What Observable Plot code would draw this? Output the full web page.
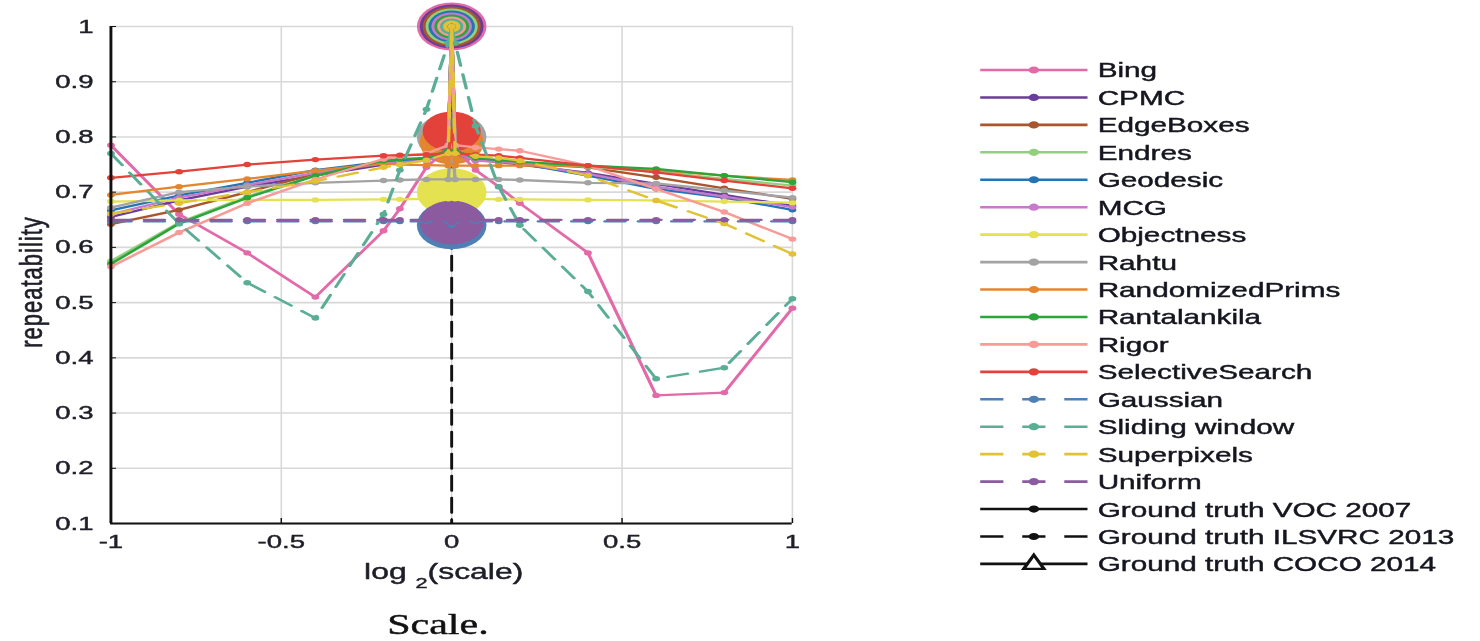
<!DOCTYPE html>
<html>
<head>
<meta charset="utf-8">
<script src="https://cdn.jsdelivr.net/npm/d3@7"></script>
<script src="https://cdn.jsdelivr.net/npm/@observablehq/plot@0.6"></script>
<style>
  html, body { margin: 0; padding: 0; background: #fff; overflow: hidden; }
  #stage {
    position: absolute; left: 0; top: 0; width: 1021px; height: 641px;
    transform: scaleX(1.45); transform-origin: 0 0;
    font-family: "Liberation Sans", Arial, sans-serif;
    color: #1e1e28;
  }
  #stage text { stroke: currentColor; stroke-width: 0.45px; paint-order: stroke; }
  #chart { position: absolute; left: 0; top: 0; }
  #overlay { position: absolute; left: 0; top: 0; pointer-events: none; }
</style>
</head>
<body>
<div id="stage">
  <div id="chart"></div>
  <svg id="overlay" width="1021" height="641"></svg>
</div>
<script>
// log2 of the scale factor applied to the image
const scales = [-1, -0.8, -0.6, -0.4, -0.2, -0.152, -0.074, -0.01, 0, 0.01, 0.07, 0.138, 0.2, 0.4, 0.6, 0.8, 1];

// repeatability per proposal method, one value per scale
const bing            = [0.785, 0.66, 0.59, 0.51, 0.63, 0.67, 0.745, 0.78, 1, 0.78, 0.74, 0.71, 0.68, 0.59, 0.332, 0.337, 0.49];
const cpmc            = [0.655, 0.685, 0.71, 0.73, 0.75, 0.755, 0.76, 0.775, 1, 0.775, 0.76, 0.755, 0.75, 0.735, 0.715, 0.695, 0.675];
const edgeBoxes       = [0.642, 0.668, 0.70, 0.733, 0.752, 0.755, 0.758, 0.77, 1, 0.77, 0.758, 0.755, 0.752, 0.745, 0.727, 0.707, 0.688];
const endres          = [0.575, 0.645, 0.692, 0.73, 0.757, 0.758, 0.76, 0.772, 1, 0.772, 0.76, 0.757, 0.754, 0.746, 0.737, 0.724, 0.712];
const geodesic        = [0.667, 0.694, 0.717, 0.74, 0.755, 0.757, 0.76, 0.775, 1, 0.775, 0.76, 0.756, 0.752, 0.73, 0.706, 0.69, 0.668];
const mcg             = [0.66, 0.69, 0.713, 0.735, 0.752, 0.754, 0.757, 0.772, 1, 0.772, 0.757, 0.755, 0.752, 0.733, 0.71, 0.692, 0.673];
const objectness      = [0.683, 0.685, 0.686, 0.686, 0.687, 0.687, 0.688, 0.688, 0.70, 0.688, 0.688, 0.687, 0.687, 0.686, 0.685, 0.683, 0.681];
const rahtu           = [0.672, 0.70, 0.71, 0.717, 0.721, 0.722, 0.723, 0.723, 0.80, 0.723, 0.723, 0.723, 0.722, 0.717, 0.716, 0.703, 0.69];
const randomizedPrims = [0.695, 0.71, 0.724, 0.739, 0.752, 0.75, 0.749, 0.748, 0.79, 0.748, 0.748, 0.748, 0.748, 0.748, 0.74, 0.73, 0.722];
const rantalankila    = [0.57, 0.643, 0.69, 0.73, 0.757, 0.76, 0.762, 0.775, 1, 0.775, 0.762, 0.758, 0.755, 0.748, 0.742, 0.73, 0.718];
const rigor           = [0.565, 0.627, 0.68, 0.723, 0.76, 0.765, 0.77, 0.785, 1, 0.785, 0.781, 0.778, 0.775, 0.748, 0.706, 0.664, 0.615];
const selectiveSearch = [0.726, 0.737, 0.75, 0.759, 0.766, 0.767, 0.768, 0.77, 0.81, 0.77, 0.768, 0.766, 0.762, 0.748, 0.736, 0.721, 0.707];
const gaussian        = [0.647, 0.647, 0.647, 0.647, 0.647, 0.647, 0.647, 0.647, 0.64, 0.647, 0.647, 0.647, 0.647, 0.647, 0.647, 0.647, 0.647];
const slidingWindow   = [0.77, 0.643, 0.536, 0.472, 0.66, 0.74, 0.85, 0.97, 1, 0.97, 0.82, 0.71, 0.64, 0.52, 0.362, 0.382, 0.507];
const superpixels     = [0.661, 0.68, 0.70, 0.72, 0.745, 0.75, 0.758, 0.77, 1, 0.77, 0.765, 0.762, 0.757, 0.73, 0.685, 0.643, 0.588];
const uniform         = [0.65, 0.65, 0.65, 0.65, 0.65, 0.65, 0.65, 0.65, 0.645, 0.65, 0.65, 0.65, 0.65, 0.65, 0.65, 0.65, 0.65];

// ground truth boxes: only the unscaled image repeats
const groundTruthScale = [0, 0];
const groundTruthRepeatability = [0, 1];

const methods = ["Bing", "CPMC", "EdgeBoxes", "Endres", "Geodesic", "MCG", "Objectness", "Rahtu",
  "RandomizedPrims", "Rantalankila", "Rigor", "SelectiveSearch", "Gaussian", "Sliding window", "Superpixels", "Uniform"];
const groundTruths = ["Ground truth VOC 2007", "Ground truth ILSVRC 2013", "Ground truth COCO 2014"];
const baselines = ["Gaussian", "Sliding window", "Superpixels", "Uniform"];

const xTicks = [-1, -0.5, 0, 0.5, 1];
const xTickLabels = ["-1", "-0.5", "0", "0.5", "1"];
const yTicks = [0.1, 0.2, 0.3, 0.4, 0.5, 0.6, 0.7, 0.8, 0.9, 1];
const yTickLabels = ["0.1", "0.2", "0.3", "0.4", "0.5", "0.6", "0.7", "0.8", "0.9", "1"];

// drawing styles
const colors = ["#e26aa9", "#6a3d9a", "#a8562e", "#92cf7f", "#2274b5", "#c57bc9", "#e5e252", "#a3a3a3",
  "#e4862e", "#2ca43a", "#f89a96", "#e3423a", "#4f80b3", "#5aae96", "#e2c133", "#8b5a9f"];
const dash = "14,9";

const series = [bing, cpmc, edgeBoxes, endres, geodesic, mcg, objectness, rahtu, randomizedPrims,
  rantalankila, rigor, selectiveSearch, gaussian, slidingWindow, superpixels, uniform];

const rows = methods.flatMap((m, i) => scales.map((s, j) => ({method: m, scale: s, rep: series[i][j]})));

// big markers at the unscaled point; stacked markers shrink so each stays visible
const centre = methods.map((m, i) => ({method: m, scale: 0, rep: series[i][scales.indexOf(0)]}));
centre.forEach((d, i) => {
  const k = centre.slice(0, i).filter(e => Math.abs(e.rep - d.rep) < 0.05).length;
  d.radius = 24 - 2 * k;
});

const gtRows = groundTruthScale.map((s, j) => ({scale: s, rep: groundTruthRepeatability[j]}));

const chart = Plot.plot({
  width: 570,
  height: 598,
  marginLeft: 76,
  marginRight: 24,
  marginTop: 26,
  marginBottom: 75,
  x: {domain: [-1, 1]},
  y: {domain: [0.1, 1]},
  r: {type: "identity"},
  color: {domain: methods, range: colors},
  style: {fontFamily: "'Liberation Sans', Arial, sans-serif", fontSize: "19px", color: "#1e1e28", overflow: "visible", background: "transparent"},
  marks: [
    Plot.gridX(xTicks, {stroke: "#d8d8d8", strokeOpacity: 1, strokeWidth: 1.1}),
    Plot.gridY(yTicks, {stroke: "#d8d8d8", strokeOpacity: 1, strokeWidth: 1.6}),
    Plot.line(gtRows, {x: "scale", y: "rep", stroke: "#111", strokeWidth: 2, strokeDasharray: "15,7", clip: true}),
    Plot.dot(centre, {x: "scale", y: "rep", r: "radius", fill: "method"}),
    ...methods.flatMap(m => [
      Plot.line(rows, {filter: d => d.method === m, x: "scale", y: "rep", stroke: "method",
        strokeWidth: 2.3, strokeDasharray: baselines.includes(m) ? dash : null}),
      Plot.dot(rows, {filter: d => d.method === m, x: "scale", y: "rep", fill: "method", r: 2.7})
    ]),
    Plot.ruleX([-1], {stroke: "#111", strokeWidth: 2}),
    Plot.ruleY([0.1], {stroke: "#111", strokeWidth: 2}),
    Plot.axisX(xTicks, {tickSize: 5, dy: -5, tickFormat: () => "", label: null, stroke: "#111"}),
    Plot.axisX(xTicks, {tickSize: 0, tickPadding: 11, tickFormat: d => xTickLabels[xTicks.indexOf(d)], label: null}),
    Plot.axisY(yTicks, {tickSize: 4, dx: 4, tickFormat: () => "", label: null, stroke: "#111"}),
    Plot.axisY(yTicks, {tickSize: 0, tickPadding: 12, tickFormat: d => yTickLabels[yTicks.indexOf(d)], label: null})
  ]
});
document.getElementById("chart").appendChild(chart);

// axis titles
const svg = d3.select(chart);
const xTitle = svg.append("text")
  .attr("x", 306).attr("y", 579)
  .attr("text-anchor", "middle")
  .attr("fill", "#1e1e28")
  .style("font-size", "22px");
xTitle.append("tspan").text("log ");
xTitle.append("tspan").attr("dy", 9).style("font-size", "15px").text("2");
xTitle.append("tspan").attr("dy", -9).text("(scale)");

svg.append("text")
  .attr("transform", "translate(21,282) rotate(-90)")
  .attr("text-anchor", "middle")
  .attr("dominant-baseline", "central")
  .attr("fill", "#1e1e28")
  .style("font-size", "22px")
  .style("letter-spacing", "1px")
  .text("repeatability");

// legend
const overlay = d3.select("#overlay");
const legendEntries = methods.map((m, i) => ({label: m, color: colors[i], dashed: baselines.includes(m), symbol: "dot"}))
  .concat([
    {label: groundTruths[0], color: "#111", dashed: false, symbol: "dot"},
    {label: groundTruths[1], color: "#111", dashed: true, symbol: "dot"},
    {label: groundTruths[2], color: "#111", dashed: false, symbol: "triangle"}
  ]);
const lx0 = 676, lx1 = 750, lxm = 713, ltx = 757, ly0 = 70, lstep = 27.44;
legendEntries.forEach((e, i) => {
  const y = ly0 + i * lstep;
  const g = overlay.append("g");
  g.append("line").attr("x1", lx0).attr("x2", lx1).attr("y1", y).attr("y2", y)
    .attr("stroke", e.color).attr("stroke-width", 2.6)
    .attr("stroke-dasharray", e.dashed ? "16,13" : null);
  if (e.symbol === "triangle") {
    g.append("path").attr("d", `M${lxm},${y - 9}L${lxm + 7},${y + 5}L${lxm - 7},${y + 5}Z`)
      .attr("fill", "#fff").attr("stroke", "#111").attr("stroke-width", 2.4);
  } else {
    g.append("circle").attr("cx", lxm).attr("cy", y).attr("r", 3.6).attr("fill", e.color);
  }
  g.append("text").attr("x", ltx).attr("y", y + 7.5)
    .attr("fill", "#15151f").style("font-size", "20.5px").text(e.label);
});

// caption
overlay.append("text").attr("x", 267).attr("y", 634)
  .attr("fill", "#111")
  .style("font-family", "'Liberation Serif', 'DejaVu Serif', serif")
  .style("font-size", "29px")
  .text("Scale.");
</script>
</body>
</html>
